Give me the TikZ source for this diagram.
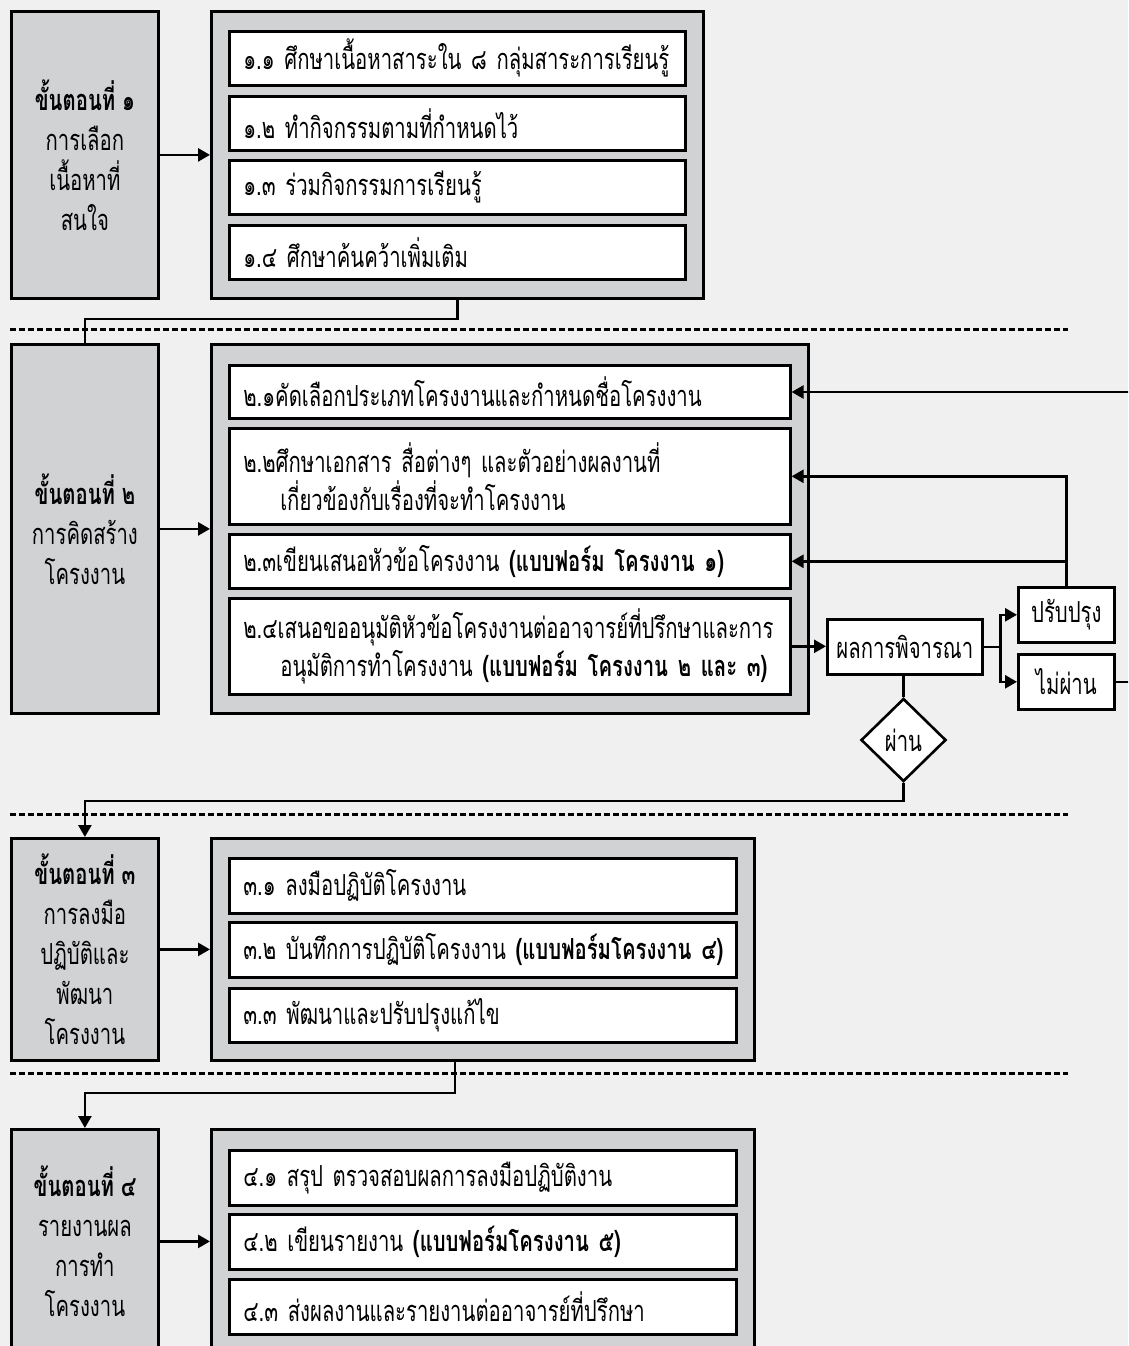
\documentclass[tikz,border=0pt]{standalone}
\usepackage{fontspec}
\setmainfont{Loma}[Script=Thai,FakeStretch=0.70]
\usetikzlibrary{arrows.meta,shapes.geometric}
\definecolor{bgc}{HTML}{F0F0F0}
\definecolor{boxc}{HTML}{D1D2D4}
\newcommand{\oneline}[1]{\mbox{#1}}
\tikzset{
  txt/.style={font=\fontsize{29}{38}\selectfont},
  lbl/.style={font=\fontsize{29}{40}\selectfont},
  stepbox/.style={draw, fill=boxc, line width=2.8pt, anchor=north west, inner sep=0pt, align=center, lbl},
  holder/.style={draw, fill=boxc, line width=2.8pt, anchor=north west, inner sep=0pt},
  inbox/.style={draw, fill=white, line width=2.6pt, anchor=north west, inner xsep=14pt, inner ysep=0pt, align=left, txt},
  smallbox/.style={draw, fill=white, line width=2.6pt, anchor=north west, inner sep=0pt, align=center, txt},
  conn/.style={line width=2.6pt, -{Triangle[length=12pt,width=13pt]}},
  link/.style={line width=2.6pt},
  dashline/.style={line width=3pt, dash pattern=on 5.5pt off 3.5pt},
}
\begin{document}
\begin{tikzpicture}[x=1pt,y=-1pt]
\fill[bgc] (0,0) rectangle (1128,1346);
\useasboundingbox (0,0) rectangle (1128,1346);
\clip (0,0) rectangle (1128,1346);

% dashed separators
\draw[dashline] (10,329) -- (1068,329);
\draw[dashline] (10,814) -- (1068,814);
\draw[dashline] (10,1073) -- (1068,1073);

% ---- step 1
\node[stepbox, minimum width=147pt, minimum height=287pt] (s1) at (10,10)
  {\textbf{ขั้นตอนที่ ๑}\\การเลือก\\เนื้อหาที่\\สนใจ};
\node[holder, minimum width=492pt, minimum height=287pt] (c1) at (210,10) {};
\node[inbox, text width=428pt, minimum height=54pt] (b11) at (228,30) {\oneline{๑.๑ ศึกษาเนื้อหาสาระใน ๘ กลุ่มสาระการเรียนรู้}};
\node[inbox, text width=428pt, minimum height=54pt] (b12) at (228,95) {\oneline{๑.๒ ทำกิจกรรมตามที่กำหนดไว้}};
\node[inbox, text width=428pt, minimum height=54pt] (b13) at (228,159) {\oneline{๑.๓ ร่วมกิจกรรมการเรียนรู้}};
\node[inbox, text width=428pt, minimum height=54pt] (b14) at (228,224) {\oneline{๑.๔ ศึกษาค้นคว้าเพิ่มเติม}};

% ---- step 2
\node[stepbox, minimum width=147pt, minimum height=369pt] (s2) at (10,343)
  {\textbf{ขั้นตอนที่ ๒}\\การคิดสร้าง\\โครงงาน};
\node[holder, minimum width=597pt, minimum height=369pt] (c2) at (210,343) {};
\node[inbox, text width=533pt, minimum height=53pt] (b21) at (228,364) {\oneline{๒.๑คัดเลือกประเภทโครงงานและกำหนดชื่อโครงงาน}};
\node[inbox, text width=533pt, minimum height=96pt] (b22) at (228,427) {\oneline{๒.๒ศึกษาเอกสาร สื่อต่างๆ และตัวอย่างผลงานที่}\\\hspace*{37pt}\oneline{เกี่ยวข้องกับเรื่องที่จะทำโครงงาน}};
\node[inbox, text width=533pt, minimum height=54pt] (b23) at (228,533) {\oneline{๒.๓เขียนเสนอหัวข้อโครงงาน \textbf{(แบบฟอร์ม โครงงาน ๑)}}};
\node[inbox, text width=533pt, minimum height=96pt] (b24) at (228,597) {\oneline{๒.๔เสนอขออนุมัติหัวข้อโครงงานต่ออาจารย์ที่ปรึกษาและการ}\\\hspace*{37pt}\oneline{อนุมัติการทำโครงงาน \textbf{(แบบฟอร์ม โครงงาน ๒ และ ๓)}}};

\node[smallbox, minimum width=155pt, minimum height=55pt] (res) at (826,618) {ผลการพิจารณา};
\node[smallbox, minimum width=96pt, minimum height=55pt] (imp) at (1017,586) {ปรับปรุง};
\node[smallbox, minimum width=96pt, minimum height=55pt] (fail) at (1017,653) {ไม่ผ่าน};
\node[draw, fill=white, diamond, line width=2.6pt, minimum width=85pt, minimum height=83pt, inner sep=0pt, txt] (dia) at (903.5,740) {ผ่าน};

% ---- step 3
\node[stepbox, minimum width=147pt, minimum height=222pt] (s3) at (10,837)
  {\textbf{ขั้นตอนที่ ๓}\\การลงมือ\\ปฏิบัติและ\\พัฒนา\\โครงงาน};
\node[holder, minimum width=543pt, minimum height=222pt] (c3) at (210,837) {};
\node[inbox, text width=479pt, minimum height=55pt] (b31) at (228,857) {\oneline{๓.๑ ลงมือปฏิบัติโครงงาน}};
\node[inbox, text width=479pt, minimum height=55pt] (b32) at (228,921) {\oneline{๓.๒ บันทึกการปฏิบัติโครงงาน \textbf{(แบบฟอร์มโครงงาน ๔)}}};
\node[inbox, text width=479pt, minimum height=54pt] (b33) at (228,987) {\oneline{๓.๓ พัฒนาและปรับปรุงแก้ไข}};

% ---- step 4
\node[stepbox, minimum width=147pt, minimum height=224pt] (s4) at (10,1128)
  {\textbf{ขั้นตอนที่ ๔}\\รายงานผล\\การทำ\\โครงงาน};
\node[holder, minimum width=543pt, minimum height=224pt] (c4) at (210,1128) {};
\node[inbox, text width=479pt, minimum height=55pt] (b41) at (228,1149) {\oneline{๔.๑ สรุป ตรวจสอบผลการลงมือปฏิบัติงาน}};
\node[inbox, text width=479pt, minimum height=55pt] (b42) at (228,1213) {\oneline{๔.๒ เขียนรายงาน \textbf{(แบบฟอร์มโครงงาน ๕)}}};
\node[inbox, text width=479pt, minimum height=55pt] (b43) at (228,1278) {\oneline{๔.๓ ส่งผลงานและรายงานต่ออาจารย์ที่ปรึกษา}};

% ---- connectors
\draw[conn] (s1.east) -- (c1.west);
\draw[conn] (s2.east) -- (c2.west);
\draw[conn] (s3.east) -- (c3.west);
\draw[conn] (s4.east) -- (c4.west);

\draw[link] (c1.south) -- ++(0,19) -| (s2.north);
\draw[conn] (b24.east) -- (b24.east -| res.west);
\draw[link] (res.east) -- ++(17,0) coordinate (sp);
\draw[conn] (sp) |- (imp.west);
\draw[conn] (sp) |- (fail.west);
\draw[conn] (imp.north) |- (b22.east);
\draw[conn] (imp.north |- b23.east) -- (b23.east);
\coordinate (loopR) at (1145,392);
\draw[conn] (fail.east) -| (loopR) -- (loopR -| b21.east);
\draw[link] (dia.north |- res.south) -- (dia.north);
\draw[conn] (dia.south) -- ++(0,18) -| (s3.north);
\draw[conn] ([xshift=245pt]c3.south west) -- ++(0,31) -| (s4.north);
\end{tikzpicture}
\end{document}
